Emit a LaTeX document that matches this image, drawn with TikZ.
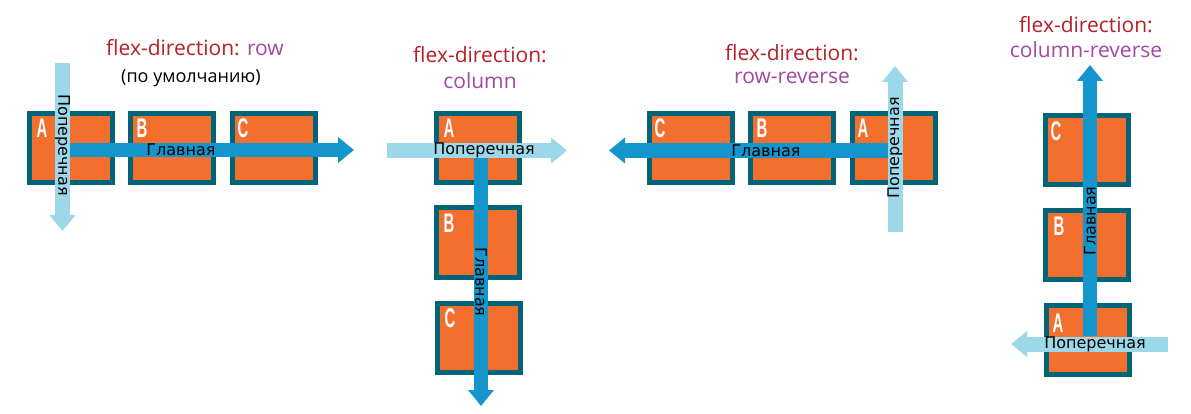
\documentclass[tikz,border=0pt]{standalone}
\usepackage{graphicx}
\usepackage{fontspec}
\setmainfont{Open Sans}
\newfontfamily\axisfont{DejaVu Sans}
\newfontfamily\letterfont{Liberation Sans}
\usetikzlibrary{arrows.meta}
\definecolor{boxfill}{HTML}{F26F2E}
\definecolor{boxline}{HTML}{006478}
\definecolor{mainblue}{HTML}{1496CD}
\definecolor{crossblue}{HTML}{9CD8EA}
\definecolor{titlered}{HTML}{B5202A}
\definecolor{titlepurple}{HTML}{A347A0}
\newcommand{\narrowletter}[1]{\scalebox{0.55}[1]{#1}}
\tikzset{
  item/.style={draw=boxline, line width=5pt, fill=boxfill, minimum width=83pt, minimum height=69pt, inner sep=0pt},
  itemletter/.style={text=white, font=\letterfont\bfseries\fontsize{27}{27}\selectfont, inner sep=0pt},
  mainaxis/.style={draw=mainblue, line width=14.5pt, -{Triangle[length=16pt,width=25pt]}},
  crossaxis/.style={draw=crossblue, line width=15pt, -{Triangle[length=16pt,width=25pt]}},
  axislabel/.style={font=\axisfont\fontsize{16}{16}\selectfont, inner sep=0pt, text=black},
  title/.style={font=\fontsize{21}{21}\selectfont, text=titlered, inner sep=0pt},
  subtitle/.style={font=\fontsize{21}{21}\selectfont, text=titlepurple, inner sep=0pt},
  note/.style={font=\fontsize{18}{18}\selectfont, text=black, inner sep=0pt}
}
\begin{document}
\begin{tikzpicture}[x=1pt,y=-1pt]
\useasboundingbox[fill=white] (0,0) rectangle (1191,414);

% ---------- panel 1: row ----------
\node[item] (r1A) at (71,148) {};
\node[item] (r1B) at (171.5,148) {};
\node[item] (r1C) at (274,148) {};
\node[itemletter] (r1Al) at (42,128) {\narrowletter{A}};
\node[itemletter] (r1Bl) at (142,128) {\narrowletter{B}};
\node[itemletter] (r1Cl) at (243,128) {\narrowletter{C}};
\coordinate (p1cs) at (62.5,63);
\coordinate (p1ce) at (62.5,231);
\coordinate (p1ms) at (70,150);
\coordinate (p1me) at (354,150);
\draw[crossaxis] (p1cs) -- (p1ce);
\draw[mainaxis] (p1ms) -- (p1me);
\node[axislabel, rotate=-90] (p1cl) at (62.5,145) {Поперечная};
\node[axislabel] (p1ml) at (181,150) {Главная};
\node[title] (t1) at (195,48) {flex-direction: \textcolor{titlepurple}{row}};
\node[note] (t1b) at (191,78) {(по умолчанию)};

% ---------- panel 2: column ----------
\node[item] (c2A) at (478,148) {};
\node[item] (c2B) at (478,242.5) {};
\node[item] (c2C) at (479,337.5) {};
\node[itemletter] (c2Al) at (449,128) {\narrowletter{A}};
\node[itemletter] (c2Bl) at (449,223) {\narrowletter{B}};
\node[itemletter] (c2Cl) at (450,318) {\narrowletter{C}};
\coordinate (p2cs) at (387,150.5);
\coordinate (p2ce) at (567,150.5);
\coordinate (p2ms) at (481,158);
\coordinate (p2me) at (481,406);
\draw[crossaxis] (p2cs) -- (p2ce);
\draw[mainaxis] (p2ms) -- (p2me);
\node[axislabel] (p2cl) at (484,150.5) {Поперечная};
\node[axislabel, rotate=-90] (p2ml) at (481,282) {Главная};
\node[title] (t2) at (480,55) {flex-direction:};
\node[subtitle] (t2b) at (480,81) {column};

% ---------- panel 3: row-reverse ----------
\node[item] (r3C) at (691,148) {};
\node[item] (r3B) at (792,148) {};
\node[item] (r3A) at (893.5,148) {};
\node[itemletter] (r3Cl) at (660,128) {\narrowletter{C}};
\node[itemletter] (r3Bl) at (762,128) {\narrowletter{B}};
\node[itemletter] (r3Al) at (863,128) {\narrowletter{A}};
\coordinate (p3ms) at (888,150.5);
\coordinate (p3me) at (609,150.5);
\coordinate (p3cs) at (895,232);
\coordinate (p3ce) at (895,66);
\draw[mainaxis] (p3ms) -- (p3me);
\draw[crossaxis] (p3cs) -- (p3ce);
\node[axislabel] (p3ml) at (766,150.5) {Главная};
\node[axislabel, rotate=90] (p3cl) at (895,148) {Поперечная};
\node[title] (t3) at (792,53) {flex-direction:};
\node[subtitle] (t3b) at (792,78) {row-reverse};

% ---------- panel 4: column-reverse ----------
\node[item] (c4C) at (1087,150) {};
\node[item] (c4B) at (1087,245) {};
\node[item] (c4A) at (1088,340) {};
\node[itemletter] (c4Cl) at (1056,131) {\narrowletter{C}};
\node[itemletter] (c4Bl) at (1059,226) {\narrowletter{B}};
\node[itemletter] (c4Al) at (1058,323) {\narrowletter{A}};
\coordinate (p4ms) at (1090,336);
\coordinate (p4me) at (1090,65);
\coordinate (p4cs) at (1168,344);
\coordinate (p4ce) at (1011,344);
\draw[mainaxis] (p4ms) -- (p4me);
\draw[crossaxis] (p4cs) -- (p4ce);
\node[axislabel] (p4cl) at (1095,344.5) {Поперечная};
\node[axislabel, rotate=90] (p4ml) at (1090,221) {Главная};
\node[title] (t4) at (1086,25) {flex-direction:};
\node[subtitle] (t4b) at (1086,50) {column-reverse};
\end{tikzpicture}
\end{document}
